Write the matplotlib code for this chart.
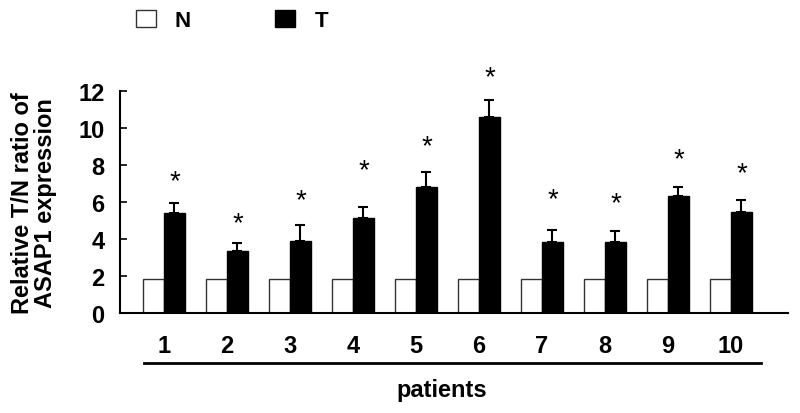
import numpy as np
import matplotlib.pyplot as plt
from matplotlib.lines import Line2D

plt.rcParams['font.family'] = ['Liberation Sans', 'DejaVu Sans']
plt.rcParams['font.weight'] = 'bold'

patients = ['1', '2', '3', '4', '5', '6', '7', '8', '9', '10']
normal = [1.85, 1.83, 1.85, 1.85, 1.85, 1.83, 1.83, 1.83, 1.83, 1.83]
tumor = [5.41, 3.38, 3.91, 5.14, 6.84, 10.61, 3.84, 3.84, 6.32, 5.46]
tumor_err = [0.57, 0.44, 0.88, 0.61, 0.78, 0.94, 0.66, 0.63, 0.49, 0.65]
star_y = [7.37, 5.10, 6.34, 7.96, 9.28, 13.0, 6.40, 6.18, 8.60, 7.80]

fig = plt.figure(figsize=(8, 4.14), dpi=100)
ax = fig.add_axes([0.15, 0.2408, 0.835, 0.536])

x = np.arange(1, len(patients) + 1)
w = 0.333
bn = ax.bar(x - w / 2, normal, w, color='white', edgecolor='#333333', linewidth=1, label='N')
bt = ax.bar(x + w / 2, tumor, w, color='black', edgecolor='black', linewidth=1, label='T')
ax.errorbar(x + w / 2, tumor, yerr=[np.zeros(len(tumor)), tumor_err], fmt='none',
            ecolor='black', elinewidth=1.5, capsize=3.5, capthick=1.5)

# asterisks: glyph sits high in its box, so nudge down a little
for xi, yi in zip(x, star_y):
    ax.annotate('*', (xi + w / 2, yi), xytext=(0, -3.3), textcoords='offset points',
                ha='center', va='center', fontsize=20, fontweight='normal',
                annotation_clip=False)

ax.set_xlim(0.302, 10.905)
ax.set_ylim(0, 12)
ax.set_yticks(range(0, 13, 2))
ax.set_xticks(x)
ax.set_xticklabels(patients)
ax.tick_params(axis='y', direction='in', length=5, width=1.2, labelsize=17, pad=11)
ax.tick_params(axis='x', length=0, labelsize=17, pad=15)
for s in ['top', 'right']:
    ax.spines[s].set_visible(False)
for s in ['left', 'bottom']:
    ax.spines[s].set_linewidth(1.5)

ax.set_ylabel('Relative T/N ratio of\nASAP1 expression', fontsize=17,
              fontweight='bold', linespacing=1.0)
ax.yaxis.set_label_coords(-0.095, 0.5)

ax.add_line(Line2D([0.036, 0.96], [-0.224, -0.224], transform=ax.transAxes,
                   color='black', linewidth=2, clip_on=False))
ax.text(0.482, -0.345, 'patients', transform=ax.transAxes, ha='center', va='center',
        fontsize=17)

fig.legend(handles=[bn, bt], labels=['N', 'T'], ncol=2, frameon=False,
           loc='center left', bbox_to_anchor=(0.17, 0.948), fontsize=16,
           handlelength=0.9, handleheight=0.85, handletextpad=0.85,
           columnspacing=3.8, borderpad=0, borderaxespad=0)

fig.savefig('out.png', dpi=100)
